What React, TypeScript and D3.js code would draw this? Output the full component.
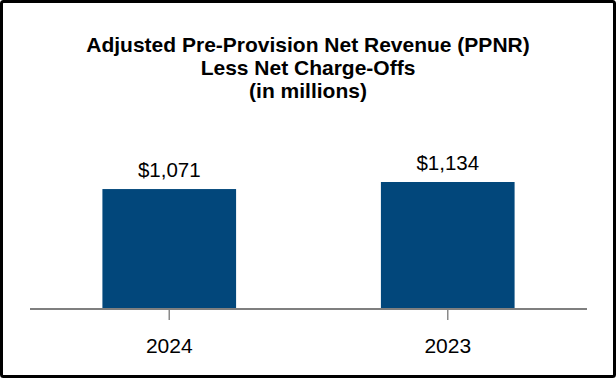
import React from "react";
import * as d3 from "d3";

const categories = ["2024", "2023"];
const values = [1071, 1134];
const valueLabels = ["$1,071", "$1,134"];
const titleLines = [
  "Adjusted Pre-Provision Net Revenue (PPNR)",
  "Less Net Charge-Offs",
  "(in millions)",
];

export default function App() {
  const W = 616;
  const H = 378;
  const x = d3.scaleBand().domain(categories).range([30, 587]).paddingInner(0.52).paddingOuter(0.26);
  const y = d3.scaleLinear().domain([0, 1134]).range([309, 182]);
  const font = "'Liberation Sans', Arial, sans-serif";
  return (
    <svg width={W} height={H} style={{ position: "absolute", left: 0, top: 0, display: "block" }}>
      <rect x={0} y={0} width={W} height={H} fill="#fff" />
      <rect x={1.5} y={1.5} width={W - 3} height={H - 3} fill="none" stroke="#000" strokeWidth={3} rx={2} />
      {titleLines.map((t, i) => (
        <text key={i} x={W / 2} y={51.5 + i * 23.2} textAnchor="middle" fontFamily={font} fontWeight="bold" fontSize={21} fill="#000">
          {t}
        </text>
      ))}
      {categories.map((c, i) => (
        <g key={c}>
          <rect x={x(c)!} y={y(values[i])} width={x.bandwidth()} height={y(0) - y(values[i])} fill="#02477B" />
          <text x={x(c)! + x.bandwidth() / 2} y={y(values[i]) - 12} textAnchor="middle" fontFamily={font} fontSize={20.5} fill="#000">
            {valueLabels[i]}
          </text>
          <line x1={x(c)! + x.bandwidth() / 2} x2={x(c)! + x.bandwidth() / 2} y1={y(0)} y2={y(0) + 11} stroke="#8a8a8a" strokeWidth={1.5} />
          <text x={x(c)! + x.bandwidth() / 2} y={352.5} textAnchor="middle" fontFamily={font} fontSize={21} fill="#000">
            {c}
          </text>
        </g>
      ))}
      <line x1={30} x2={587} y1={y(0)} y2={y(0)} stroke="#7f7f7f" strokeWidth={2} />
    </svg>
  );
}
